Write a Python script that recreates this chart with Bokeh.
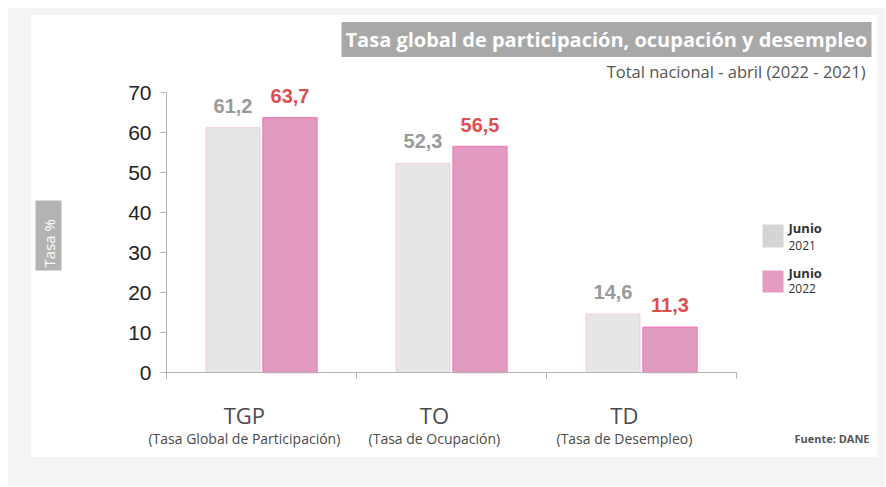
from bokeh.plotting import figure
from bokeh.models import (ColumnDataSource, Range1d, LinearAxis, FixedTicker,
                          LabelSet, Label, BoxAnnotation, Spacer)
from bokeh.core.properties import value
from bokeh.transform import dodge
from bokeh.layouts import column, row
from bokeh.embed import file_html
from bokeh.resources import INLINE
from math import pi

# ---- data ----
cats = ["TGP", "TO", "TD"]
cat_desc = ["(Tasa Global de Participación)", "(Tasa de Ocupación)", "(Tasa de Desempleo)"]
y2021 = [61.2, 52.3, 14.6]
y2022 = [63.7, 56.5, 11.3]
lab2021 = ["61,2", "52,3", "14,6"]
lab2022 = ["63,7", "56,5", "11,3"]
y_ticks = [0, 10, 20, 30, 40, 50, 60, 70]

NUM = "Liberation Sans"
OPEN = "Open Sans"

xc = [i + 0.5 for i in range(len(cats))]
src = ColumnDataSource(dict(cats=cats, desc=cat_desc, xc=xc, y2021=y2021, y2022=y2022,
                            lab2021=lab2021, lab2022=lab2022))

# value axis at page x=167 (190 px per category); 4 px per unit with 0 at page y=373
def dx(px):
    return (px - 167) / 190.0

def dy(py):
    return (373 - py) / 4.0

# ---- left strip with the "Tasa %" tag ----
pl = figure(width=35, height=442, x_range=Range1d(0, 35), y_range=Range1d(0, 442),
            x_axis_type=None, y_axis_type=None, output_backend="svg", toolbar_location=None,
            min_border=0)
pl.border_fill_color = "white"
pl.background_fill_color = "white"
pl.outline_line_color = None
pl.grid.visible = False
pl.add_layout(Label(x=17, y=442 - (241 - 16), text="  Tasa %  ", angle=pi / 2,
                    text_align="center", text_baseline="middle", text_font=OPEN,
                    text_font_size="15px", text_color="white",
                    background_fill_color="#b3b3b3", padding=3))

# ---- main chart: frame spans page x 112..878, y 16..448 ----
p = figure(width=811, height=442, x_range=Range1d(dx(112), dx(878)),
           y_range=Range1d(dy(448), dy(16)),
           x_axis_type=None, output_backend="svg", toolbar_location=None,
           min_border_left=45, min_border_right=0, min_border_top=0, min_border_bottom=10)
p.border_fill_color = "white"
p.background_fill_color = "white"
p.outline_line_color = None
p.xgrid.visible = False
p.ygrid.visible = False

# bars
p.vbar(x=dodge("xc", -0.15), top="y2021", width=0.284, source=src,
       fill_color="#e6e6e6", line_color="#f6c9dd", line_width=1)
p.vbar(x=dodge("xc", 0.15), top="y2022", width=0.284, source=src,
       fill_color="#e29bc0", line_color="#ea84bd", line_width=1.5)

# y axis, fixed at x=0
ya = p.yaxis[0]
ya.fixed_location = 0
ya.bounds = (dy(380), 70)
ya.ticker = FixedTicker(ticks=y_ticks)
ya.axis_line_color = "#b5b5b5"
ya.major_tick_line_color = "#b5b5b5"
ya.major_tick_out = 6
ya.major_tick_in = 0
ya.minor_tick_line_color = None
ya.major_label_text_font = NUM
ya.major_label_text_font_size = "21px"
ya.major_label_text_color = "#222222"
ya.major_label_standoff = 9

# x axis at y=0 with ticks at category boundaries
xa = LinearAxis(fixed_location=0, bounds=(dx(163), len(cats)),
                ticker=FixedTicker(ticks=list(range(1, len(cats) + 1))),
                major_label_overrides={i: "" for i in range(1, len(cats) + 1)})
xa.axis_line_color = "#b5b5b5"
xa.major_tick_line_color = "#b5b5b5"
xa.major_tick_out = 6
xa.major_tick_in = 0
xa.minor_tick_line_color = None
xa.major_label_text_font_size = "0px"
xa.major_label_standoff = 0
p.add_layout(xa, "below")

# value labels
p.add_layout(LabelSet(x=dodge("xc", -0.15), y="y2021", text="lab2021",
                      source=src, text_align="center", text_baseline="bottom", y_offset=15,
                      text_font=value(NUM), text_font_style="bold", text_font_size="20px",
                      text_color="#9a9a9a"))
p.add_layout(LabelSet(x=dodge("xc", 0.15), y="y2022", text="lab2022",
                      source=src, text_align="center", text_baseline="bottom", y_offset=15,
                      text_font=value(NUM), text_font_style="bold", text_font_size="20px",
                      text_color="#dc4f4f"))

# category labels
p.add_layout(LabelSet(x=dodge("xc", -0.09), y=dy(415), text="cats", source=src,
                      text_align="center", text_baseline="middle",
                      text_font=value(OPEN), text_font_size="22px", text_color="#4a4a4a"))
p.add_layout(LabelSet(x=dodge("xc", -0.09), y=dy(439), text="desc", source=src,
                      text_align="center", text_baseline="middle",
                      text_font=value(OPEN), text_font_size="14px", text_color="#4a4a4a"))

# title
p.add_layout(Label(x=dx(872), y=dy(40),
                   text="Tasa global de participación, ocupación y desempleo",
                   text_align="right", text_baseline="middle", text_font=OPEN,
                   text_font_style="bold", text_font_size="20px", text_color="white",
                   background_fill_color="#a8a8a8", padding=4))
p.add_layout(Label(x=dx(866), y=dy(72),
                   text="Total nacional - abril (2022 - 2021)",
                   text_align="right", text_baseline="middle", text_font=OPEN,
                   text_font_size="16.5px", text_color="#555555"))
# source
p.add_layout(Label(x=dx(870), y=dy(439), text="Fuente: DANE",
                   text_align="right", text_baseline="middle", text_font=OPEN,
                   text_font_style="bold", text_font_size="11px", text_color="#555555"))

# legend
p.add_layout(BoxAnnotation(left=dx(763), right=dx(784), top=dy(225), bottom=dy(248),
                           fill_color="#d4d4d4", fill_alpha=1, line_color=None))
p.add_layout(BoxAnnotation(left=dx(763), right=dx(784), top=dy(271), bottom=dy(293),
                           fill_color="#e39cc2", fill_alpha=1, line_color=None))
for txt, yy, bold, fs in [("Junio", 228, True, "13px"), ("2021", 246, False, "12px"),
                          ("Junio", 273, True, "13px"), ("2022", 289, False, "12px")]:
    p.add_layout(Label(x=dx(789), y=dy(yy), text=txt,
                       text_align="left", text_baseline="middle", text_font=OPEN,
                       text_font_style="bold" if bold else "normal", text_font_size=fs,
                       text_color="#333333"))

card = row(pl, p, styles={"background-color": "white"})
inner = column(Spacer(height=7),
               row(Spacer(width=23), card, Spacer(width=8)),
               Spacer(height=29),
               styles={"background-color": "#f4f4f4"})
layout = column(Spacer(height=8), row(Spacer(width=8), inner))

open("out.html", "w").write(file_html(layout, INLINE))
